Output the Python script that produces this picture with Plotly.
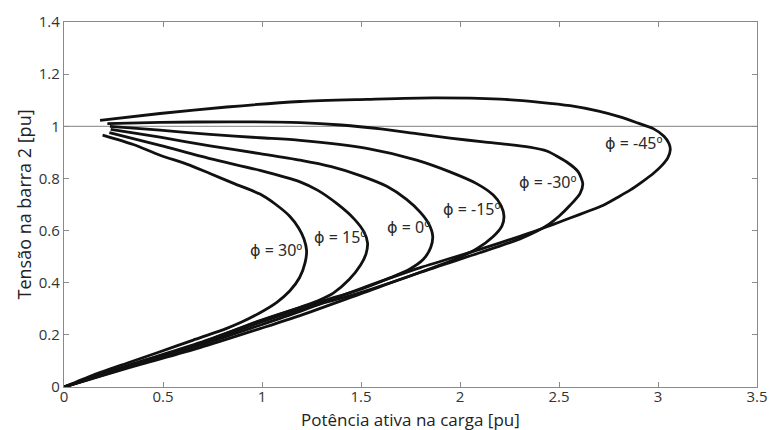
import plotly.graph_objects as go

# Load active power P [pu] and bus-2 voltage V [pu]
p_30 = [0.195, 0.35, 0.485, 0.62, 0.737, 0.86, 0.99, 1.07, 1.14, 1.185, 1.212, 1.225, 1.218, 1.19, 1.14, 1.075, 0.99, 0.90, 0.822, 0.653, 0.485, 0.317, 0.148, 0.0]
v_30 = [0.966, 0.93, 0.889, 0.855, 0.819, 0.78, 0.740, 0.70, 0.655, 0.61, 0.568, 0.525, 0.478, 0.42, 0.368, 0.325, 0.285, 0.25, 0.225, 0.180, 0.135, 0.091, 0.046, 0.0]

p_15 = [0.229, 0.485, 0.737, 0.99, 1.192, 1.28, 1.377, 1.465, 1.515, 1.533, 1.525, 1.498, 1.44, 1.36, 1.28, 1.19, 0.99, 0.687, 0.333, 0.0]
v_15 = [0.976, 0.927, 0.876, 0.831, 0.787, 0.755, 0.704, 0.645, 0.595, 0.553, 0.51, 0.468, 0.412, 0.36, 0.33, 0.305, 0.253, 0.170, 0.085, 0.0]

p_0 = [0.236, 0.485, 0.737, 0.99, 1.192, 1.35, 1.50, 1.63, 1.73, 1.80, 1.843, 1.862, 1.852, 1.815, 1.745, 1.65, 1.50, 1.35, 1.192, 0.99, 0.687, 0.333, 0.0]
v_0 = [0.988, 0.958, 0.925, 0.895, 0.870, 0.845, 0.81, 0.77, 0.72, 0.67, 0.625, 0.58, 0.535, 0.49, 0.452, 0.42, 0.375, 0.34, 0.305, 0.255, 0.168, 0.083, 0.0]

p_m15 = [0.232, 0.485, 0.737, 0.99, 1.192, 1.529, 1.781, 1.949, 2.084, 2.168, 2.208, 2.222, 2.212, 2.165, 2.085, 1.98, 1.80, 1.55, 1.35, 1.192, 0.99, 0.687, 0.333, 0.0]
v_m15 = [1.0, 0.985, 0.969, 0.956, 0.946, 0.915, 0.870, 0.825, 0.780, 0.736, 0.695, 0.655, 0.618, 0.575, 0.530, 0.492, 0.44, 0.375, 0.33, 0.298, 0.248, 0.165, 0.080, 0.0]

p_m30 = [0.219, 0.485, 0.838, 1.192, 1.40, 1.60, 1.78, 1.95, 2.118, 2.25, 2.35, 2.438, 2.539, 2.597, 2.620, 2.606, 2.556, 2.50, 2.45, 2.387, 2.303, 2.10, 1.80, 1.50, 1.192, 0.99, 0.687, 0.333, 0.0]
v_m30 = [1.010, 1.015, 1.017, 1.014, 1.005, 0.99, 0.972, 0.955, 0.94, 0.93, 0.92, 0.905, 0.863, 0.825, 0.780, 0.742, 0.697, 0.655, 0.625, 0.597, 0.568, 0.515, 0.44, 0.358, 0.274, 0.224, 0.151, 0.075, 0.0]

p_m45 = [0.182, 0.485, 0.822, 1.192, 1.529, 1.865, 2.202, 2.404, 2.556, 2.70, 2.808, 2.90, 2.976, 3.03, 3.055, 3.062, 3.05, 3.02, 2.976, 2.92, 2.859, 2.79, 2.724, 2.64, 2.556, 2.50, 2.45, 2.387, 2.303, 2.10, 1.80, 1.50, 1.192, 0.99, 0.687, 0.333, 0.0]
v_m45 = [1.023, 1.049, 1.074, 1.095, 1.103, 1.109, 1.104, 1.092, 1.079, 1.058, 1.036, 1.012, 0.991, 0.962, 0.935, 0.91, 0.88, 0.85, 0.819, 0.787, 0.755, 0.725, 0.697, 0.672, 0.648, 0.632, 0.618, 0.600, 0.578, 0.528, 0.458, 0.378, 0.29, 0.237, 0.16, 0.078, 0.0]

curves = [(p_30, v_30), (p_15, v_15), (p_0, v_0), (p_m15, v_m15), (p_m30, v_m30), (p_m45, v_m45)]

label_angles = ["30", "15", "0", "-15", "-30", "-45"]
label_p = [1.073, 1.394, 1.740, 2.063, 2.442, 2.879]
label_v = [0.525, 0.576, 0.614, 0.682, 0.787, 0.934]

x_ticks = [0, 0.5, 1, 1.5, 2, 2.5, 3, 3.5]
x_tick_text = ["0", "0.5", "1", "1.5", "2", "2.5", "3", "3.5"]
y_ticks = [0, 0.2, 0.4, 0.6, 0.8, 1.0, 1.2, 1.4]
y_tick_text = ["0", "0.2", "0.4", "0.6", "0.8", "1", "1.2", "1.4"]
ref_voltage = 1.0

FONT = "Open Sans"
LABEL_FONT = "Noto Sans"

fig = go.Figure()

# reference line V = 1 pu
fig.add_trace(go.Scatter(x=[0, 3.5], y=[ref_voltage, ref_voltage], mode="lines",
                         line=dict(color="#9a9a9a", width=1.2), showlegend=False, hoverinfo="skip"))

for p, v in curves:
    fig.add_trace(go.Scatter(x=p, y=v, mode="lines",
                             line=dict(color="#111111", width=2.8, shape="spline", smoothing=0.7),
                             showlegend=False))

for a, xp, yv in zip(label_angles, label_p, label_v):
    txt = '<span style="font-family:DejaVu Sans">ϕ</span> = ' + a + "º"
    fig.add_annotation(x=xp, y=yv, text=txt, showarrow=False,
                       font=dict(family=LABEL_FONT, size=16, color="#2a2a2a"),
                       xanchor="center", yanchor="middle")

# axis titles
fig.add_annotation(xref="paper", yref="paper", x=0.5, y=0, yshift=-32,
                   text="Potência ativa na carga [pu]", showarrow=False,
                   xanchor="center", yanchor="middle",
                   font=dict(family=FONT, size=17, color="#222222"))
fig.add_annotation(xref="paper", yref="paper", x=0, y=0.5, xshift=-41,
                   text="Tensão na barra 2 [pu]", showarrow=False, textangle=-90,
                   xanchor="center", yanchor="middle",
                   font=dict(family=FONT, size=18, color="#222222"))

axis_common = dict(showgrid=False, zeroline=False, showline=True, linecolor="#8a8a8a",
                   linewidth=1.2, mirror="ticks", ticks="inside", ticklen=5,
                   tickcolor="#8a8a8a", tickwidth=1, automargin=False,
                   tickfont=dict(family=FONT, size=15, color="#333333"))

fig.update_xaxes(range=[0, 3.5], tickvals=x_ticks, ticktext=x_tick_text,
                 ticklabelstandoff=-4, **axis_common)
fig.update_yaxes(range=[0, 1.4], tickvals=y_ticks, ticktext=y_tick_text, **axis_common)

fig.update_layout(width=771, height=430,
                  margin=dict(l=64, r=14, t=22, b=43, autoexpand=False),
                  paper_bgcolor="white", plot_bgcolor="white",
                  font=dict(family=FONT))

fig.write_html("out.html", config={"displayModeBar": False})

# remove the default page margin so the figure sits at the window's top-left corner
with open("out.html", "r", encoding="utf-8") as f:
    html = f.read()
html = html.replace("<body>", '<body style="margin:0;padding:0;overflow:hidden">', 1)
with open("out.html", "w", encoding="utf-8") as f:
    f.write(html)
